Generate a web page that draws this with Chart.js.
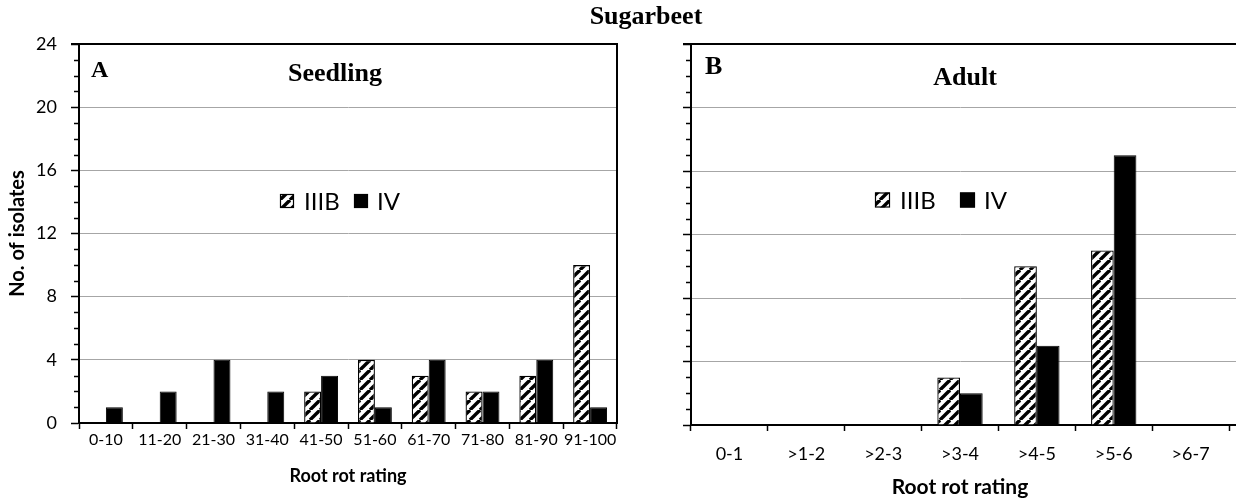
<!DOCTYPE html>
<html>
<head>
<meta charset="utf-8">
<script src="https://cdn.jsdelivr.net/npm/chart.js@4.4.1/dist/chart.umd.min.js"></script>
<style>
  html, body { margin: 0; padding: 0; background: #fff; }
  #page { position: relative; width: 1236px; height: 500px; overflow: hidden; }
  canvas { position: absolute; top: 0; }
  #seedlingChart { left: 0; }
  #adultChart { left: 640px; }
  .note { position: absolute; font-family: "Liberation Serif", "Times New Roman", serif; font-weight: bold; line-height: 1; white-space: nowrap; color: #000; }
  .centered { transform: translateX(-50%); }
</style>
</head>
<body>
<div id="page">
  <canvas id="seedlingChart" width="640" height="500"></canvas>
  <canvas id="adultChart" width="596" height="500"></canvas>
  <div class="note centered" style="left:646px; top:3px; font-size:26px;">Sugarbeet</div>
  <div class="note" style="left:91px; top:57px; font-size:24px;">A</div>
  <div class="note centered" style="left:335px; top:60px; font-size:26px;">Seedling</div>
  <div class="note" style="left:705px; top:53px; font-size:26px;">B</div>
  <div class="note centered" style="left:965px; top:64px; font-size:26px;">Adult</div>
</div>
<script>
const seriesNames = ['IIIB', 'IV'];

const seedlingLabels = ['0-10', '11-20', '21-30', '31-40', '41-50', '51-60', '61-70', '71-80', '81-90', '91-100'];
const seedlingIIIB = [0, 0, 0, 0, 2, 4, 3, 2, 3, 10];
const seedlingIV = [1, 2, 4, 2, 3, 1, 4, 2, 4, 1];

const adultLabels = ['0-1', '>1-2', '>2-3', '>3-4', '>4-5', '>5-6', '>6-7'];
const adultIIIB = [0, 0, 0, 3, 10, 11, 0];
const adultIV = [0, 0, 0, 2, 5, 17, 0];

const yMin = 0;
const yMax = 24;
const yStep = 4;

const SANS = 'Lato, "Open Sans", sans-serif';

function hatchPattern(ctx) {
  const size = 10;
  const tile = document.createElement('canvas');
  tile.width = size;
  tile.height = size;
  const t = tile.getContext('2d');
  t.fillStyle = '#fff';
  t.fillRect(0, 0, size, size);
  t.strokeStyle = '#000';
  t.lineWidth = 3.4;
  [-size, 0, size].forEach(k => {
    t.beginPath();
    t.moveTo(k, size);
    t.lineTo(k + size, 0);
    t.stroke();
  });
  return ctx.createPattern(tile, 'repeat');
}

// same rounding Chart.js uses for 1px grid lines
function alignPx(p) {
  return Math.round(p - 0.5) + 0.5;
}

// minor ticks, plot frame and in-plot legend
const framePlugin = {
  id: 'frame',
  afterDraw(chart, args, opts) {
    const { ctx, chartArea: area, scales: { y } } = chart;
    const right = opts.extendRight ? chart.width : area.right;
    ctx.save();
    ctx.strokeStyle = '#000';
    ctx.lineWidth = 1.5;
    for (let v = yMin; v <= yMax; v++) {
      if (v % yStep === 0) continue;
      const py = Math.round(y.getPixelForValue(v)) + 0.5;
      ctx.beginPath();
      ctx.moveTo(area.left - 5, py);
      ctx.lineTo(area.left, py);
      ctx.stroke();
    }
    if (opts.extendRight) {
      ctx.strokeStyle = '#a6a6a6';
      ctx.lineWidth = 1;
      for (let v = yStep; v < yMax; v += yStep) {
        const py = alignPx(y.getPixelForValue(v));
        ctx.beginPath();
        ctx.moveTo(area.right - 1, py);
        ctx.lineTo(right, py);
        ctx.stroke();
      }
      ctx.strokeStyle = '#000';
      ctx.lineWidth = 2;
      const py0 = y.getPixelForValue(yMin);
      ctx.beginPath();
      ctx.moveTo(area.right - 1, py0);
      ctx.lineTo(right, py0);
      ctx.stroke();
    }
    ctx.strokeStyle = '#000';
    ctx.lineWidth = 2;
    const top = y.getPixelForValue(yMax);
    ctx.beginPath();
    ctx.moveTo(area.left - 8, top);
    ctx.lineTo(right, top);
    if (!opts.extendRight) ctx.lineTo(right, y.getPixelForValue(yMin));
    ctx.stroke();

    // legend
    const L = opts.legend;
    ctx.font = L.fontSize + 'px ' + SANS;
    ctx.textBaseline = 'middle';
    chart.data.datasets.forEach((ds, i) => {
      const sw = L.swatches[i];
      ctx.fillStyle = ds.backgroundColor;
      ctx.fillRect(sw[0], L.y - L.box / 2, L.box, L.box);
      ctx.strokeStyle = '#000';
      ctx.lineWidth = 1.2;
      ctx.strokeRect(sw[0] + 0.5, L.y - L.box / 2 + 0.5, L.box - 1, L.box - 1);
      ctx.fillStyle = '#000';
      ctx.fillText(ds.label, sw[1], L.y + 1);
    });
    ctx.restore();
  }
};

function makeChart(canvas, cfg) {
  const ctx = canvas.getContext('2d');
  const hatch = hatchPattern(ctx);
  return new Chart(ctx, {
    type: 'bar',
    data: {
      labels: cfg.labels,
      datasets: [
        { label: seriesNames[0], data: cfg.iiib, backgroundColor: hatch, borderColor: '#000', borderWidth: 1.3 },
        { label: seriesNames[1], data: cfg.iv, backgroundColor: '#000', borderColor: '#000', borderWidth: 1 }
      ]
    },
    options: {
      responsive: false,
      animation: false,
      devicePixelRatio: 1,
      categoryPercentage: cfg.catPct,
      barPercentage: 1,
      layout: { padding: { top: 44, right: cfg.padRight, left: 0, bottom: 0 } },
      plugins: {
        legend: { display: false },
        tooltip: { enabled: false },
        frame: { extendRight: cfg.extendRight, legend: cfg.legend }
      },
      scales: {
        x: {
          offset: true,
          grid: { offset: true, drawOnChartArea: false, drawTicks: true, tickLength: 6, tickColor: '#000', tickWidth: 1.5 },
          border: { color: '#000', width: 2 },
          ticks: { color: '#000', font: { family: SANS, size: cfg.xTickSize }, padding: cfg.xTickPad, maxRotation: 0, autoSkip: false },
          title: { display: true, text: 'Root rot rating', color: '#000', font: { family: SANS, size: cfg.xTitleSize, weight: 'bold' }, padding: { top: 0, bottom: cfg.xTitlePad } },
          afterFit: s => { s.height = cfg.xHeight; }
        },
        y: {
          min: yMin,
          max: yMax,
          grid: {
            color: c => (c.tick.value === yMin || c.tick.value === yMax) ? 'rgba(0,0,0,0)' : '#a6a6a6',
            lineWidth: 1,
            tickColor: '#000',
            tickWidth: 1.5,
            tickLength: 8
          },
          border: { color: '#000', width: 2 },
          ticks: { display: cfg.yLabels, stepSize: yStep, color: '#000', font: { family: SANS, size: 18 }, padding: 14 },
          title: { display: cfg.yLabels, text: 'No. of isolates', color: '#000', font: { family: SANS, size: 20, weight: 'bold' }, padding: { top: 6, bottom: 0 } },
          afterFit: s => { s.width = cfg.yWidth; }
        }
      }
    },
    plugins: [framePlugin]
  });
}

makeChart(document.getElementById('seedlingChart'), {
  labels: seedlingLabels,
  iiib: seedlingIIIB,
  iv: seedlingIV,
  catPct: 0.63,
  padRight: 23,
  yWidth: 79,
  xHeight: 77,
  xTickSize: 16,
  xTickPad: 1,
  xTitleSize: 18,
  xTitlePad: 13,
  yLabels: true,
  extendRight: false,
  legend: { y: 201, box: 14, fontSize: 24, swatches: [[280, 304], [354, 377]] }
});

makeChart(document.getElementById('adultChart'), {
  labels: adultLabels,
  iiib: adultIIIB,
  iv: adultIV,
  catPct: 0.59,
  padRight: 7,
  yWidth: 51,
  xHeight: 75,
  xTickSize: 18,
  xTickPad: 12,
  xTitleSize: 21,
  xTitlePad: 0,
  yLabels: false,
  extendRight: true,
  legend: { y: 200, box: 15, fontSize: 24, swatches: [[235, 260], [320, 344]] }
});
</script>
</body>
</html>
